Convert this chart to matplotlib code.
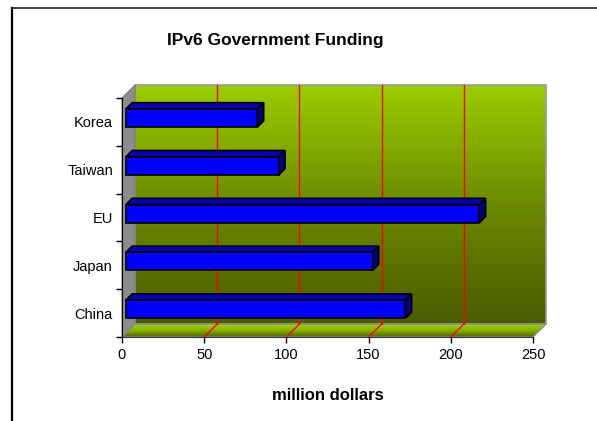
import numpy as np
import matplotlib
matplotlib.use("Agg")
import matplotlib.pyplot as plt
from matplotlib.colors import LinearSegmentedColormap
from matplotlib.patches import Polygon
from matplotlib.lines import Line2D

# data (million dollars), bottom-to-top order
countries = ["China", "Japan", "EU", "Taiwan", "Korea"]
funding = [170, 150, 215, 93, 80]
x_ticks = [0, 50, 100, 150, 200, 250]

plt.rcParams["font.family"] = ["Liberation Sans", "DejaVu Sans"]

W, H = 597, 421
fig = plt.figure(figsize=(W / 100, H / 100), dpi=100)
fig.patch.set_facecolor("white")

# front plane of the 3-D box, in pixels
L, R, B, T = 122, 533, 337, 98
ax = fig.add_axes([L / W, 1 - B / H, (R - L) / W, (B - T) / H])
ax.set_facecolor("none")

xmax = x_ticks[-1]
n = len(countries)
depth_px = 13
DX = depth_px * xmax / (R - L)
DY = depth_px * n / (B - T)
y0, y1 = -0.5, n - 0.5

# ---- back wall (vertical gradient) ----
wall_cmap = LinearSegmentedColormap.from_list(
    "wall", ["#4a5c00", "#6c8a00", "#9acd00"])
grad = np.linspace(0, 1, 256).reshape(-1, 1)
im = ax.imshow(grad, cmap=wall_cmap, origin="lower", aspect="auto",
               extent=(DX, xmax + DX, y0 + DY, y1 + DY), zorder=0)
im.set_clip_on(False)
ax.add_patch(Polygon([(DX, y0 + DY), (DX, y1 + DY), (xmax + DX, y1 + DY),
                      (xmax + DX, y0 + DY)], closed=True, fc="none",
                     ec="#9a9a9a", lw=1.2, zorder=1, clip_on=False))

# ---- left side wall ----
ax.add_patch(Polygon([(0, y0), (DX, y0 + DY), (DX, y1 + DY), (0, y1)],
                     closed=True, fc="#8c8c8c", ec="#7a7a7a", lw=0.8,
                     zorder=1, clip_on=False))

# ---- floor ----
floor = Polygon([(0, y0), (xmax, y0), (xmax + DX, y0 + DY), (DX, y0 + DY)],
                closed=True, fc="none", ec="#8a8a8a", lw=1.0, zorder=2,
                clip_on=False, transform=ax.transData)
floor_cmap = LinearSegmentedColormap.from_list(
    "floor", ["#4f6400", "#86b000", "#a2d400"])
fim = ax.imshow(grad, cmap=floor_cmap, origin="lower", aspect="auto",
                extent=(0, xmax + DX, y0, y0 + DY), zorder=1)
fim.set_clip_path(floor)
fim.set_clip_box(fig.bbox)
ax.add_patch(floor)

# ---- gridlines on wall and floor ----
for v in x_ticks[1:-1]:
    ax.plot([v + DX, v + DX], [y0 + DY, y1 + DY], color="#ff0000", lw=1,
            zorder=2, clip_on=False)
    ax.plot([v, v + DX], [y0, y0 + DY], color="#ff0000", lw=1,
            zorder=2, clip_on=False)

# ---- 3-D bars ----
f0, f1 = 0.30, 0.78
bh = 0.38
x0 = f0 * DX
yc = np.arange(n) + f0 * DY
d = f1 - f0
ax.barh(yc, funding, height=bh, left=x0, color="#0000ff",
        edgecolor="black", lw=1.2, zorder=4)
for yi, v in zip(yc, funding):
    top, bot = yi + bh / 2, yi - bh / 2
    ax.add_patch(Polygon([(x0, top), (x0 + v, top),
                          (x0 + v + d * DX, top + d * DY),
                          (x0 + d * DX, top + d * DY)],
                         closed=True, fc="#0000b4", ec="black", lw=1.2,
                         zorder=3, clip_on=False))
    ax.add_patch(Polygon([(x0 + v, bot), (x0 + v + d * DX, bot + d * DY),
                          (x0 + v + d * DX, top + d * DY), (x0 + v, top)],
                         closed=True, fc="#000080", ec="black", lw=1.2,
                         zorder=3, clip_on=False))

ax.set_xlim(0, xmax)
ax.set_ylim(y0, y1)

# ---- axes ----
for s in ("top", "right"):
    ax.spines[s].set_visible(False)
ax.spines["left"].set_color("black")
ax.spines["bottom"].set_color("#333333")
ax.spines["left"].set_zorder(5)
ax.spines["bottom"].set_zorder(5)

ax.set_xticks(x_ticks)
ax.set_xticklabels([str(t) for t in x_ticks])
ax.tick_params(axis="x", direction="out", length=4, width=1, pad=4,
               labelsize=10.5, colors="black")

ax.set_yticks(np.arange(n + 1) - 0.5)
ax.set_yticklabels([])
ax.set_yticks(np.arange(n), minor=True)
ax.set_yticklabels(countries, minor=True)
ax.tick_params(axis="y", which="major", direction="out", length=4, width=1)
ax.tick_params(axis="y", which="minor", length=0, pad=6.5, labelsize=10.5)

fig.text(275 / W, 1 - 41 / H, "IPv6 Government Funding", ha="center",
         va="center", fontsize=12.5, fontweight="bold")
fig.text(327.5 / W, 1 - 396 / H, "million dollars", ha="center",
         va="center", fontsize=12, fontweight="bold")

# chart-area frame
fig.add_artist(Line2D([12 / W, 12 / W], [0, 1 - 8 / H], color="black",
                      lw=1.6, transform=fig.transFigure))
fig.add_artist(Line2D([12 / W, 1], [1 - 8 / H, 1 - 8 / H], color="#222222",
                      lw=1.2, transform=fig.transFigure))

fig.savefig("out.png", dpi=100)
